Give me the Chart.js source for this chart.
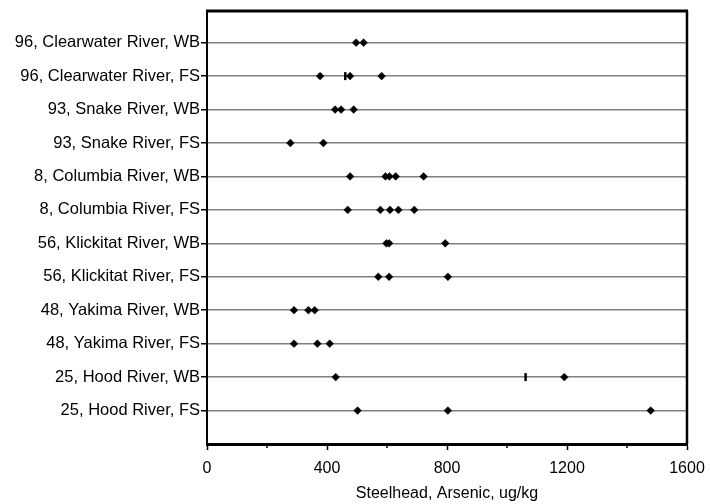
<!DOCTYPE html>
<html>
<head>
<meta charset="utf-8">
<script src="https://cdn.jsdelivr.net/npm/chart.js@4"></script>
<style>
    body { margin: 0; background: #fff; }
    #wrap { width: 710px; height: 504px; }
</style>
</head>
<body>
<div id="wrap"><canvas id="arsenic-chart" width="710" height="504"></canvas></div>
<script>
// rows, top to bottom
const categories = [
    '96, Clearwater River, WB',
    '96, Clearwater River, FS',
    '93, Snake River, WB',
    '93, Snake River, FS',
    '8, Columbia River, WB',
    '8, Columbia River, FS',
    '56, Klickitat River, WB',
    '56, Klickitat River, FS',
    '48, Yakima River, WB',
    '48, Yakima River, FS',
    '25, Hood River, WB',
    '25, Hood River, FS'
];

// arsenic, ug/kg, one list per row (same order as categories)
const diamondValues = [
    [497, 522],
    [377, 477, 582],
    [427, 447, 489],
    [278, 388],
    [477, 595, 608, 629, 722],
    [469, 578, 610, 638, 691],
    [598, 607, 794],
    [571, 607, 803],
    [290, 338, 359],
    [290, 368, 409],
    [429, 1191],
    [502, 803, 1479]
];

// the odd vertical-bar markers
const barRows = ['96, Clearwater River, FS', '25, Hood River, WB'];
const barValues = [461, 1062];

const xTicks = [0, 400, 800, 1200, 1600];
const xMinorTicks = [200, 600, 1000, 1400];

function rowY(label) {
    return categories.length - categories.indexOf(label);
}

const diamondPoints = [];
diamondValues.forEach((vals, i) => {
    vals.forEach(v => diamondPoints.push({ x: v, y: rowY(categories[i]) }));
});
const barPoints = barRows.map((r, i) => ({ x: barValues[i], y: rowY(r) }));

// frame + minor ticks, the way the old spreadsheet drew them
const framePlugin = {
    id: 'frame',
    afterDraw(chart) {
        const { ctx, chartArea: a, scales } = chart;
        ctx.save();
        ctx.strokeStyle = '#000';
        ctx.lineWidth = 3;
        ctx.beginPath();
        ctx.moveTo(a.left - 1, a.top);
        ctx.lineTo(a.right + 1, a.top);
        ctx.stroke();
        ctx.lineWidth = 2.5;
        ctx.beginPath();
        ctx.moveTo(a.right, a.top);
        ctx.lineTo(a.right, a.bottom);
        ctx.stroke();
        ctx.lineWidth = 1.5;
        xMinorTicks.forEach(t => {
            const px = scales.x.getPixelForValue(t);
            ctx.beginPath();
            ctx.moveTo(px, a.bottom);
            ctx.lineTo(px, a.bottom + 4);
            ctx.stroke();
        });
        ctx.restore();
    }
};

const font = { family: 'Liberation Sans, Arial, sans-serif', size: 16 };

new Chart(document.getElementById('arsenic-chart'), {
    type: 'scatter',
    data: {
        datasets: [
            {
                data: diamondPoints,
                pointStyle: 'rectRot',
                pointRadius: 3.9,
                backgroundColor: '#000',
                borderColor: '#000',
                borderWidth: 0.5
            },
            {
                data: barPoints,
                pointStyle: 'line',
                rotation: 90,
                pointRadius: 4,
                borderColor: '#000',
                borderWidth: 2.5
            }
        ]
    },
    options: {
        responsive: false,
        animation: false,
        layout: { padding: { top: 9, right: 23, left: 0, bottom: 0 } },
        plugins: { legend: { display: false }, tooltip: { enabled: false } },
        scales: {
            x: {
                type: 'linear',
                min: 0,
                max: 1600,
                afterBuildTicks: s => { s.ticks = xTicks.map(v => ({ value: v })); },
                afterFit: s => {
                    s.height = 60;
                    s.paddingLeft = 0;
                    s.paddingRight = 0;
                },
                grid: { drawOnChartArea: false, tickLength: 6, tickWidth: 1.5, tickColor: '#000' },
                border: { color: '#000', width: 3 },
                ticks: { color: '#000', font, padding: 9, maxRotation: 0, callback: v => String(v) },
                title: {
                    display: true,
                    text: 'Steelhead, Arsenic, ug/kg',
                    color: '#000',
                    font,
                    padding: { top: 4, bottom: 1 }
                }
            },
            y: {
                type: 'linear',
                min: 0,
                max: 12.95,
                afterBuildTicks: s => {
                    s.ticks = categories.map((c, i) => ({ value: categories.length - i }));
                },
                afterFit: s => { s.width = 207; },
                grid: { color: '#808080', lineWidth: 1.5, tickLength: 6, tickColor: '#000', tickWidth: 1.5 },
                border: { color: '#000', width: 2 },
                ticks: {
                    color: '#000',
                    font: { family: font.family, size: 16.5 },
                    padding: 1,
                    callback: v => categories[categories.length - v]
                }
            }
        }
    },
    plugins: [framePlugin]
});
</script>
</body>
</html>
